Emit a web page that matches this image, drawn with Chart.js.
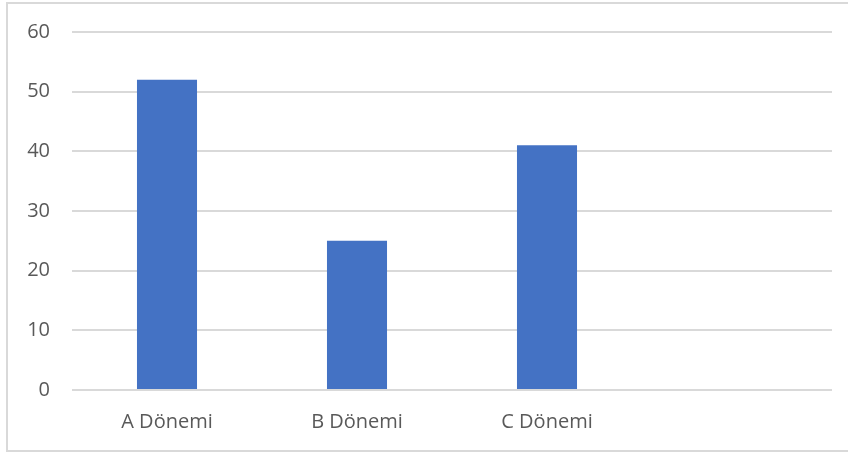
<!DOCTYPE html>
<html>
<head>
<title>Dönem Grafiği</title>
<script src="https://cdn.jsdelivr.net/npm/chart.js"></script>
<style>
  body { margin: 0; background: #fff; }
  /* light frame like the Excel chart area */
  #frame {
    position: absolute;
    left: 6px; top: 2px;
    width: 860px; height: 446px;
    border: 2px solid #d9d9d9;
  }
  #chartContainer {
    position: absolute;
    left: 0; top: 0;
    width: 848px; height: 453px;
  }
</style>
</head>
<body>
  <div id="frame"></div>
  <div id="chartContainer">
    <canvas id="donemChart"></canvas>
  </div>

  <script>
    // Values
    const categories = ["A Dönemi", "B Dönemi", "C Dönemi", ""];
    const values = [52, 25, 41, null];
    const yTicks = [0, 10, 20, 30, 40, 50, 60];

    const ctx = document.getElementById("donemChart").getContext("2d");

    new Chart(ctx, {
      type: "bar",
      data: {
        labels: categories,
        datasets: [{
          label: "Seri 1",
          data: values,
          backgroundColor: "#4472C4",
          barPercentage: 0.316,
          categoryPercentage: 1
        }]
      },
      options: {
        responsive: true,
        maintainAspectRatio: false,
        animation: false,
        layout: {
          padding: { left: 0, right: 16, top: 32, bottom: 7 }
        },
        plugins: {
          legend: { display: false },
          tooltip: { enabled: false }
        },
        scales: {
          x: {
            grid: { display: false },
            border: { display: false },
            ticks: {
              color: "#595959",
              padding: 12,
              font: { family: "Open Sans", size: 20 }
            }
          },
          y: {
            min: 0,
            max: 60,
            afterBuildTicks: (axis) => {
              axis.ticks = yTicks.map(v => ({ value: v }));
            },
            afterFit: (axis) => {
              axis.width = 72;
              axis.paddingTop = 0;
              axis.paddingBottom = 0;
            },
            grid: { color: "#d9d9d9", lineWidth: 2, drawTicks: false },
            border: { display: false },
            ticks: {
              color: "#595959",
              padding: 22,
              font: { family: "Open Sans", size: 20 }
            }
          }
        }
      }
    });
  </script>
</body>
</html>
